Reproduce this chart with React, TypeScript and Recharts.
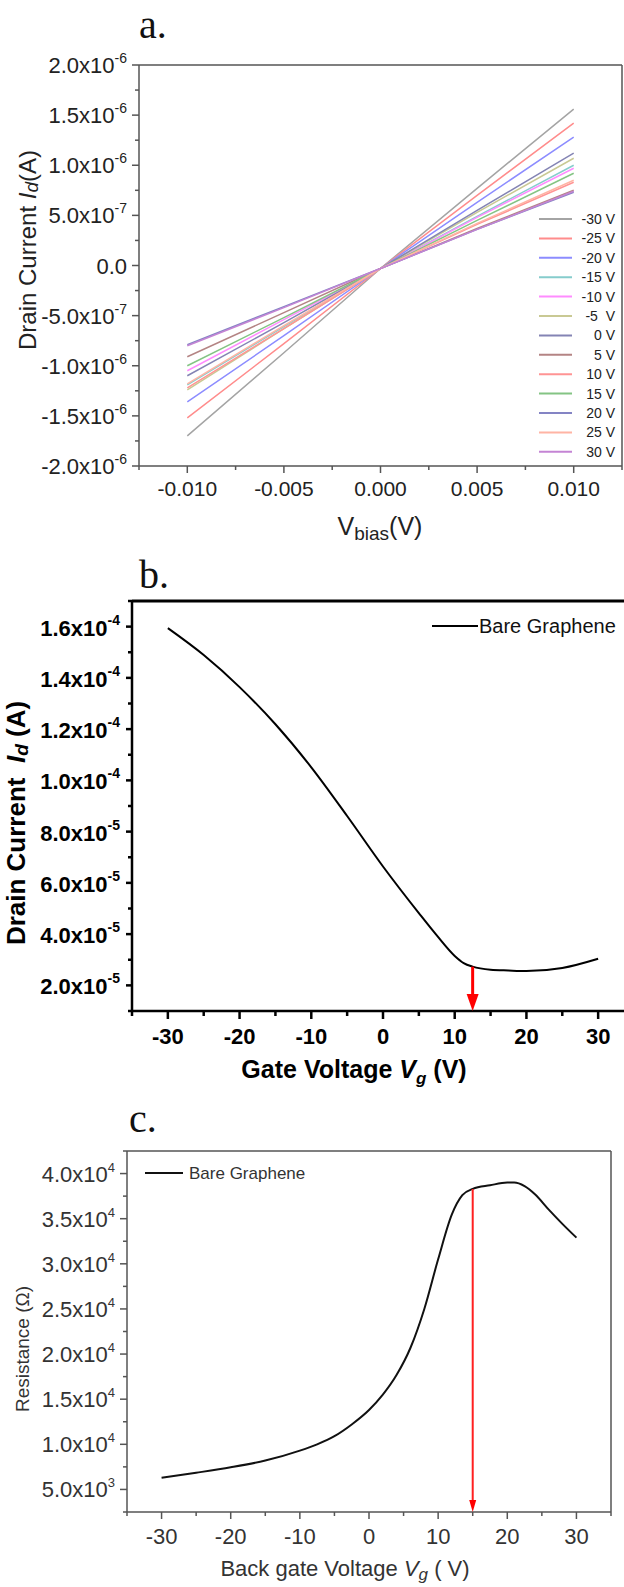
import React from 'react';
import { LineChart, Line, XAxis, YAxis, ReferenceLine, ReferenceDot } from 'recharts';

const SANS = 'Arial, "Liberation Sans", sans-serif';
const SERIF = '"Liberation Serif", "Times New Roman", serif';

// ---- (a) drain current vs bias, one curve per back gate voltage ----
const biasV = [-0.01, -0.005, 0, 0.005, 0.01];
const gateLabels = ['-30 V', '-25 V', '-20 V', '-15 V', '-10 V', '-5  V', '0 V', '5 V', '10 V', '15 V', '20 V', '25 V', '30 V'];
const idG_m30 = [-1.70e-6, -0.87e-6, -0.03e-6, 0.77e-6, 1.56e-6];
const idG_m25 = [-1.52e-6, -0.78e-6, -0.03e-6, 0.70e-6, 1.42e-6];
const idG_m20 = [-1.36e-6, -0.70e-6, -0.03e-6, 0.63e-6, 1.28e-6];
const idG_m15 = [-1.19e-6, -0.61e-6, -0.03e-6, 0.49e-6, 1.00e-6];
const idG_m10 = [-1.05e-6, -0.54e-6, -0.03e-6, 0.48e-6, 0.97e-6];
const idG_m5 = [-1.24e-6, -0.63e-6, -0.03e-6, 0.53e-6, 1.07e-6];
const idG_0 = [-1.10e-6, -0.57e-6, -0.03e-6, 0.55e-6, 1.12e-6];
const idG_5 = [-0.91e-6, -0.47e-6, -0.03e-6, 0.37e-6, 0.75e-6];
const idG_10 = [-1.22e-6, -0.63e-6, -0.03e-6, 0.41e-6, 0.83e-6];
const idG_15 = [-1.00e-6, -0.52e-6, -0.03e-6, 0.45e-6, 0.92e-6];
const idG_20 = [-0.79e-6, -0.41e-6, -0.03e-6, 0.36e-6, 0.73e-6];
const idG_25 = [-1.18e-6, -0.60e-6, -0.03e-6, 0.42e-6, 0.85e-6];
const idG_30 = [-0.80e-6, -0.42e-6, -0.03e-6, 0.36e-6, 0.74e-6];
const ivCurves = [idG_m30, idG_m25, idG_m20, idG_m15, idG_m10, idG_m5, idG_0, idG_5, idG_10, idG_15, idG_20, idG_25, idG_30];
const ivColors = ['#a4a4a4', '#ff8c8c', '#8c8cff', '#86cccc', '#ff8cff', '#c9c994', '#8484b4', '#b48484', '#ff9494', '#84c484', '#8484c4', '#ffb4a4', '#c484d4'];

const xTicksA = [-0.0125, -0.01, -0.0075, -0.005, -0.0025, 0, 0.0025, 0.005, 0.0075, 0.01, 0.0125];
const yTicksA = [-2e-6, -1.75e-6, -1.5e-6, -1.25e-6, -1e-6, -7.5e-7, -5e-7, -2.5e-7, 0, 2.5e-7, 5e-7, 7.5e-7, 1e-6, 1.25e-6, 1.5e-6, 1.75e-6, 2e-6];

// ---- (b) transfer curve ----
const gateV_b = [-30, -25, -20, -15, -10, -5, 0, 5, 7.5, 10, 11.25, 12.5, 15, 17.5, 20, 25, 30];
const drain_b = [1.594e-4, 1.489e-4, 1.364e-4, 1.219e-4, 1.051e-4, 8.61e-5, 6.64e-5, 4.82e-5, 3.95e-5, 3.15e-5, 2.87e-5, 2.73e-5, 2.61e-5, 2.58e-5, 2.56e-5, 2.68e-5, 3.04e-5];
const diracB = 12.5;
const xTicksB = [-35, -30, -25, -20, -15, -10, -5, 0, 5, 10, 15, 20, 25, 30, 35];
const yTicksB = [1e-5, 2e-5, 3e-5, 4e-5, 5e-5, 6e-5, 7e-5, 8e-5, 9e-5, 1e-4, 1.1e-4, 1.2e-4, 1.3e-4, 1.4e-4, 1.5e-4, 1.6e-4, 1.7e-4];

// ---- (c) resistance vs back gate ----
const gateV_c = [-30, -25, -20, -15, -10, -7.5, -5, -2.5, 0, 2, 4, 6, 8, 10, 12, 13.5, 15, 17.5, 20, 21, 22.5, 24, 26, 28, 30];
const res_c = [6.3e3, 6.85e3, 7.45e3, 8.2e3, 9.3e3, 1.0e4, 1.09e4, 1.22e4, 1.38e4, 1.55e4, 1.77e4, 2.07e4, 2.5e4, 3.05e4, 3.55e4, 3.76e4, 3.83e4, 3.87e4, 3.9e4, 3.9e4, 3.86e4, 3.77e4, 3.6e4, 3.44e4, 3.29e4];
const diracC = 15;
const xTicksC = [-35, -30, -25, -20, -15, -10, -5, 0, 5, 10, 15, 20, 25, 30, 35];
const yTicksC = [2500, 5000, 7500, 10000, 12500, 15000, 17500, 20000, 22500, 25000, 27500, 30000, 32500, 35000, 37500, 40000, 42500];

const ivData = biasV.map((v, i) => {
  const row: Record<string, number> = { v };
  ivCurves.forEach((c, k) => { row['g' + k] = c[i]; });
  return row;
});
const dataB = gateV_b.map((vg, i) => ({ vg, id: drain_b[i] }));
const dataC = gateV_c.map((vg, i) => ({ vg, r: res_c[i] }));

const isMultiple = (v: number, step: number) => Math.abs(v / step - Math.round(v / step)) < 1e-6;

function sci(v: number): [string, string | null] {
  if (Math.abs(v) < 1e-20) return ['0.0', null];
  const e = Math.floor(Math.log10(Math.abs(v)) + 1e-9);
  return [(v / Math.pow(10, e)).toFixed(1) + 'x10', String(e)];
}

type TickStyle = {
  step: number; color: string; width: number; major: number; minor: number;
  gap: number; font: number; sup?: number; supDy?: number; baseDy: number;
  weight: number | string; fill: string; fmt?: (v: number) => string;
};

const leftTick = (o: TickStyle) => (p: any) => {
  const { x, y, payload } = p;
  const v = payload.value;
  const major = isMultiple(v, o.step);
  const [base, exp] = sci(v);
  return (
    <g>
      <line x1={x} y1={y} x2={x - (major ? o.major : o.minor)} y2={y} stroke={o.color} strokeWidth={o.width} />
      {major && (
        <text x={x - o.gap} y={y + o.baseDy} textAnchor="end" fontSize={o.font} fontFamily={SANS} fontWeight={o.weight} fill={o.fill}>
          {base}
          {exp && <tspan dy={o.supDy} fontSize={o.sup}>{exp}</tspan>}
        </text>
      )}
    </g>
  );
};

const bottomTick = (o: TickStyle) => (p: any) => {
  const { x, y, payload } = p;
  const v = payload.value;
  const major = isMultiple(v, o.step) && Math.abs(v) < 34;
  return (
    <g>
      <line x1={x} y1={y} x2={x} y2={y + (major ? o.major : o.minor)} stroke={o.color} strokeWidth={o.width} />
      {major && (
        <text x={x} y={y + o.baseDy} textAnchor="middle" fontSize={o.font} fontFamily={SANS} fontWeight={o.weight} fill={o.fill}>
          {o.fmt ? o.fmt(v) : String(v)}
        </text>
      )}
    </g>
  );
};

const axA = '#555';
const axC = '#555';

const tickAx = bottomTick({ step: 0.005, color: axA, width: 1.5, major: 7, minor: 4, gap: 0, font: 21, baseDy: 30, weight: 400, fill: '#222', fmt: (v) => v.toFixed(3) });
const tickAy = leftTick({ step: 5e-7, color: axA, width: 1.5, major: 7, minor: 4, gap: 12, font: 22, sup: 14, supDy: -10, baseDy: 8, weight: 400, fill: '#222' });
const tickBx = bottomTick({ step: 10, color: '#000', width: 2.5, major: 8, minor: 5, gap: 0, font: 22, baseDy: 33, weight: 700, fill: '#000' });
const tickBy = leftTick({ step: 2e-5, color: '#000', width: 2.5, major: 6, minor: 4, gap: 12, font: 22, sup: 14, supDy: -11, baseDy: 9, weight: 700, fill: '#000' });
const tickCx = bottomTick({ step: 10, color: axC, width: 1.5, major: 7, minor: 4, gap: 0, font: 22, baseDy: 32, weight: 400, fill: '#333' });
const tickCy = leftTick({ step: 5000, color: axC, width: 1.5, major: 7, minor: 4, gap: 12, font: 22, sup: 13, supDy: -10, baseDy: 8, weight: 400, fill: '#333' });

const downArrow = (w: number, h: number) => (p: any) => {
  const { cx, cy } = p;
  return <polygon points={`${cx - w / 2},${cy - h} ${cx + w / 2},${cy - h} ${cx},${cy}`} fill="#ff0000" />;
};

export default function App() {
  const arrowTopB = drain_b[gateV_b.indexOf(diracB)];
  const arrowTopC = res_c[gateV_c.indexOf(diracC)];
  return (
    <div style={{ position: 'absolute', left: 0, top: 0, width: 624, height: 1587, overflow: 'hidden', background: '#fff' }}>
      {/* panel a */}
      <div style={{ position: 'absolute', left: 0, top: 0 }}>
        <LineChart width={624} height={540} data={ivData} margin={{ top: 65, right: 2, bottom: 34, left: 0 }}>
          <XAxis dataKey="v" type="number" domain={[-0.0125, 0.0125]} ticks={xTicksA} interval={0} height={40}
            tickSize={0} tickMargin={0} tickLine={false} axisLine={{ stroke: axA, strokeWidth: 1.5 }} tick={tickAx} />
          <YAxis type="number" domain={[-2e-6, 2e-6]} ticks={yTicksA} interval={0} width={139}
            tickSize={0} tickMargin={0} tickLine={false} axisLine={{ stroke: axA, strokeWidth: 1.5 }} tick={tickAy} />
          <ReferenceLine y={2e-6} stroke={axA} strokeWidth={1.5} />
          <ReferenceLine x={0.0125} stroke={axA} strokeWidth={1.5} />
          {ivCurves.map((_, k) => (
            <Line key={k} type="linear" dataKey={'g' + k} stroke={ivColors[k]} strokeWidth={1.5} dot={false} isAnimationActive={false} />
          ))}
        </LineChart>
      </div>

      {/* panel b */}
      <div style={{ position: 'absolute', left: 0, top: 540 }}>
        <LineChart width={640} height={520} data={dataB} margin={{ top: 61, right: 6, bottom: 9, left: 0 }}>
          <XAxis dataKey="vg" type="number" domain={[-35, 35]} ticks={xTicksB} interval={0} height={40}
            tickSize={0} tickMargin={0} tickLine={false} axisLine={{ stroke: '#000', strokeWidth: 2.5 }} tick={tickBx} />
          <YAxis type="number" domain={[1e-5, 1.7e-4]} ticks={yTicksB} interval={0} width={132}
            tickSize={0} tickMargin={0} tickLine={false} axisLine={{ stroke: '#000', strokeWidth: 2.5 }} tick={tickBy} />
          <ReferenceLine y={1.7e-4} stroke="#000" strokeWidth={3} />
          <Line type="monotone" dataKey="id" stroke="#000" strokeWidth={2} dot={false} isAnimationActive={false} />
          <ReferenceLine segment={[{ x: diracB, y: arrowTopB }, { x: diracB, y: 1.5e-5 }]} stroke="#ff0000" strokeWidth={3} />
          <ReferenceDot x={diracB} y={1e-5} ifOverflow="visible" shape={downArrow(12, 17)} />
        </LineChart>
      </div>

      {/* panel c */}
      <div style={{ position: 'absolute', left: 0, top: 1050 }}>
        <LineChart width={624} height={537} data={dataC} margin={{ top: 101, right: 13, bottom: 35, left: 0 }}>
          <XAxis dataKey="vg" type="number" domain={[-35, 35]} ticks={xTicksC} interval={0} height={40}
            tickSize={0} tickMargin={0} tickLine={false} axisLine={{ stroke: axC, strokeWidth: 1.5 }} tick={tickCx} />
          <YAxis type="number" domain={[2500, 42500]} ticks={yTicksC} interval={0} width={127}
            tickSize={0} tickMargin={0} tickLine={false} axisLine={{ stroke: axC, strokeWidth: 1.5 }} tick={tickCy} />
          <ReferenceLine y={42500} stroke={axC} strokeWidth={1.5} />
          <ReferenceLine x={35} stroke={axC} strokeWidth={1.5} />
          <Line type="monotone" dataKey="r" stroke="#111" strokeWidth={2} dot={false} isAnimationActive={false} />
          <ReferenceLine segment={[{ x: diracC, y: arrowTopC }, { x: diracC, y: 3500 }]} stroke="#ff2020" strokeWidth={2} />
          <ReferenceDot x={diracC} y={2500} ifOverflow="visible" shape={downArrow(7, 12)} />
        </LineChart>
      </div>

      {/* panel letters, axis titles, legends */}
      <svg width={624} height={1587} style={{ position: 'absolute', left: 0, top: 0, pointerEvents: 'none' }}>
        <text x={139} y={38} fontSize={40} fontFamily={SERIF} fill="#111">a.</text>
        <text x={139} y={588} fontSize={40} fontFamily={SERIF} fill="#111">b.</text>
        <text x={129} y={1132} fontSize={40} fontFamily={SERIF} fill="#111">c.</text>

        <text transform="rotate(-90)" x={-250} y={27} textAnchor="middle" dominantBaseline="central" fontSize={24} fontFamily={SANS} fill="#222">
          Drain Current <tspan fontStyle="italic">I</tspan><tspan fontStyle="italic" fontSize={19} dy={4}>d</tspan><tspan dy={-4}>(A)</tspan>
        </text>
        <text x={380} y={535} textAnchor="middle" fontSize={25} fontFamily={SANS} fill="#222">
          V<tspan fontSize={19} dy={5}>bias</tspan><tspan dy={-5}>(V)</tspan>
        </text>
        {gateLabels.map((lab, i) => (
          <g key={lab}>
            <line x1={539} x2={572} y1={219 + i * 19.4} y2={219 + i * 19.4} stroke={ivColors[i]} strokeWidth={2} />
            <text x={615} y={219 + i * 19.4} textAnchor="end" dominantBaseline="central" fontSize={14} fontFamily={SANS} fill="#222" style={{ whiteSpace: 'pre' }}>{lab}</text>
          </g>
        ))}

        <text transform="rotate(-90)" x={-823} y={16} textAnchor="middle" dominantBaseline="central" fontSize={26} fontWeight={700} fontFamily={SANS} fill="#000" style={{ whiteSpace: 'pre' }}>
          {'Drain Current  '}<tspan fontStyle="italic">I</tspan><tspan fontStyle="italic" fontSize={19} dy={5}>d</tspan><tspan dy={-5}>{' (A)'}</tspan>
        </text>
        <text x={354} y={1078} textAnchor="middle" fontSize={25} fontWeight={700} fontFamily={SANS} fill="#000" style={{ whiteSpace: 'pre' }}>
          {'Gate Voltage '}<tspan fontStyle="italic">V</tspan><tspan fontStyle="italic" fontSize={17} dy={6}>g</tspan><tspan dy={-6}>{' (V)'}</tspan>
        </text>
        <line x1={432} x2={478} y1={626} y2={626} stroke="#000" strokeWidth={2} />
        <text x={479} y={626} dominantBaseline="central" fontSize={20} fontFamily={SANS} fill="#111">Bare Graphene</text>

        <text transform="rotate(-90)" x={-1349} y={22} textAnchor="middle" dominantBaseline="central" fontSize={19} fontFamily={SANS} fill="#333">Resistance (Ω)</text>
        <text x={345} y={1576} textAnchor="middle" fontSize={22} fontFamily={SANS} fill="#333" style={{ whiteSpace: 'pre' }}>
          {'Back gate Voltage '}<tspan fontStyle="italic">V</tspan><tspan fontStyle="italic" fontSize={17} dy={4}>g</tspan><tspan dy={-4}>{' ( V)'}</tspan>
        </text>
        <line x1={145} x2={183} y1={1173} y2={1173} stroke="#111" strokeWidth={2} />
        <text x={189} y={1173} dominantBaseline="central" fontSize={17} fontFamily={SANS} fill="#333">Bare Graphene</text>
      </svg>
    </div>
  );
}
